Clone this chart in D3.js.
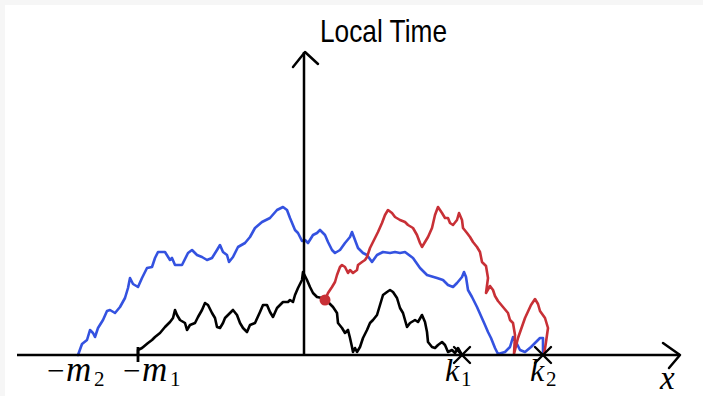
<!DOCTYPE html>
<html>
<head>
<meta charset="utf-8">
<script src="https://cdn.jsdelivr.net/npm/d3@7/dist/d3.min.js"></script>
<style>
  body { margin: 0; background: #fff; }
</style>
</head>
<body>
<div class="local-time"></div>
<script>
// local time profiles as [position x, local time]
const blackPath = [
  [-16.6, 0], [-16.6, 0.5], [-16.2, 0.7], [-15.6, 1.2], [-15.2, 1.5], [-14.9, 1.8],
  [-14.4, 2.2], [-13.9, 2.8], [-13.4, 3.3], [-13.1, 3.7], [-12.9, 4.5], [-12.7, 4.0],
  [-12.4, 3.5], [-11.9, 3.2], [-11.7, 2.5], [-11.4, 3.0], [-10.9, 3.2], [-10.6, 3.8],
  [-10.2, 4.5], [-9.9, 5.2], [-9.6, 5.0], [-9.2, 4.2], [-8.9, 3.7], [-8.7, 2.8],
  [-8.4, 2.7], [-8.1, 3.2], [-7.9, 3.7], [-7.4, 4.2], [-7.1, 4.5], [-6.7, 4.0],
  [-6.4, 3.2], [-6.1, 2.7], [-5.7, 2.3], [-5.4, 3.0], [-4.9, 3.2], [-4.4, 4.3],
  [-4.1, 5.0], [-3.7, 5.0], [-3.4, 4.3], [-3.1, 3.8], [-2.7, 4.7], [-2.4, 5.0],
  [-2.1, 5.3], [-1.6, 5.3], [-1.4, 5.5], [-1.1, 5.3], [-0.9, 6.0], [-0.6, 6.7],
  [-0.2, 7.5], [-0.1, 8.3], [0.3, 7.5], [0.6, 6.8], [0.9, 6.2], [1.3, 5.8],
  [1.8, 5.7], [2.4, 5.3], [2.9, 4.8], [3.3, 4.2], [3.4, 3.2], [3.8, 2.7],
  [4.1, 2.2], [4.4, 2.5], [4.6, 1.7], [4.8, 0.8], [4.9, 0.3], [5.1, 0.7],
  [5.3, 0.3], [5.6, 0.8], [5.9, 1.7], [6.3, 2.5], [6.6, 3.2], [6.9, 3.5],
  [7.3, 4.0], [7.6, 5.0], [7.9, 6.0], [8.3, 6.3], [8.6, 6.5], [8.9, 6.3],
  [9.3, 5.7], [9.6, 4.7], [9.9, 4.2], [10.3, 2.8], [10.6, 3.2], [11.1, 3.5],
  [11.4, 3.3], [11.8, 4.0], [12.1, 3.3], [12.3, 2.3], [12.4, 1.3], [12.8, 0.8],
  [13.1, 0.7], [13.4, 1.0], [13.8, 1.3], [14.1, 1.0], [14.4, 0.3], [14.8, 0.5],
  [15.1, 0.2], [15.4, 0.7], [15.8, 0]
];

const bluePath = [
  [-22.6, 0], [-22.2, 1.1], [-21.7, 1.5], [-21.4, 2.5], [-21.1, 2.2], [-20.9, 1.8],
  [-20.6, 2.7], [-20.1, 3.5], [-19.7, 4.4], [-19.4, 4.5], [-18.9, 4.2], [-18.4, 4.8],
  [-17.9, 5.7], [-17.6, 6.7], [-17.4, 7.7], [-17.1, 7.1], [-16.6, 6.8], [-16.2, 7.7],
  [-15.7, 8.7], [-15.2, 8.8], [-14.9, 9.7], [-14.6, 10.3], [-13.9, 10.3], [-13.4, 9.5],
  [-13.2, 9.7], [-12.9, 9.0], [-12.2, 9.0], [-11.6, 10.2], [-11.2, 10.5], [-10.7, 10.0],
  [-10.2, 9.8], [-9.7, 9.5], [-9.2, 9.7], [-8.7, 10.5], [-8.4, 11.0], [-8.1, 10.3],
  [-7.7, 10.0], [-7.5, 9.3], [-7.1, 9.8], [-6.6, 10.8], [-5.9, 11.2], [-5.4, 11.8],
  [-4.9, 12.7], [-4.2, 13.3], [-3.4, 13.7], [-2.7, 14.5], [-2.1, 14.8], [-1.7, 14.5],
  [-1.4, 13.7], [-0.9, 12.5], [-0.6, 12.2], [-0.2, 11.4], [0.1, 11.5], [0.4, 11.2],
  [0.9, 12.0], [1.3, 12.2], [1.6, 12.5], [2.1, 12.0], [2.4, 11.3], [2.8, 10.5],
  [3.1, 10.2], [3.6, 10.5], [4.1, 11.2], [4.6, 11.8], [4.8, 12.3], [5.1, 11.5],
  [5.4, 10.7], [5.9, 10.2], [6.3, 10.0], [6.8, 9.3], [7.3, 10.0], [7.9, 10.3],
  [8.6, 10.2], [9.1, 10.3], [9.6, 10.2], [10.1, 10.3], [10.9, 9.7], [11.6, 8.7],
  [12.3, 8.0], [13.3, 7.7], [13.9, 7.5], [14.4, 7.0], [14.9, 6.8], [15.3, 7.2],
  [15.8, 7.8], [16.0, 8.3], [16.2, 7.8], [16.4, 6.5], [16.8, 5.8], [17.3, 4.8],
  [17.7, 3.9], [18.1, 3.0], [18.4, 2.3], [18.7, 1.7], [19.1, 0.7], [19.4, 0.1],
  [20.1, 0.3], [20.6, 0.8], [20.9, 1.8], [21.2, 1.3], [21.6, 0.5], [22.1, 0.3],
  [22.7, 0.8], [23.6, 1.7], [23.9, 1.7], [23.9, 0]
];

const redPath = [
  [2.1, 5.5], [2.4, 6.2], [2.8, 6.8], [3.1, 7.3], [3.3, 8.0], [3.6, 8.8],
  [3.8, 9.0], [4.1, 8.8], [4.4, 8.2], [4.6, 8.5], [4.9, 8.2], [5.3, 8.5],
  [5.4, 9.0], [5.8, 9.3], [6.1, 9.5], [6.3, 9.8], [6.6, 10.7], [7.1, 11.7],
  [7.4, 12.3], [7.8, 13.2], [8.1, 14.0], [8.4, 14.5], [8.8, 14.2], [9.1, 13.8],
  [9.6, 13.5], [10.1, 13.3], [10.4, 13.0], [10.9, 12.7], [11.3, 12.0], [11.6, 11.2],
  [11.8, 10.8], [12.1, 11.3], [12.4, 11.8], [12.8, 12.7], [13.1, 14.0], [13.4, 14.8],
  [13.8, 14.2], [14.1, 13.7], [14.4, 13.7], [14.6, 13.2], [14.9, 13.0], [15.3, 13.5],
  [15.5, 14.2], [15.8, 13.5], [15.9, 12.7], [16.3, 12.2], [16.6, 11.8], [16.9, 11.3],
  [17.3, 10.8], [17.6, 10.3], [17.8, 9.3], [18.0, 9.1], [18.2, 8.9], [18.4, 7.7],
  [18.2, 6.2], [18.6, 6.9], [18.9, 6.5], [19.1, 5.9], [19.4, 5.4], [19.9, 4.8],
  [20.4, 4.2], [20.6, 3.5], [20.9, 3.2], [21.1, 2.0], [21.0, 0.1], [21.4, 1.7],
  [22.1, 3.7], [22.7, 5.0], [23.1, 5.6], [23.4, 5.1], [23.6, 4.4], [24.1, 3.7],
  [24.4, 2.7], [24.2, 1.3], [24.0, 0]
];

const redStart = [2.1, 5.5];

// points marked on the x axis
const markerNames = ["m", "m", "k", "k"];
const markerSubs = ["2", "1", "1", "2"];
const markerValues = [-22.6, -16.6, 15.8, 23.9];
const markerKinds = ["none", "tick", "cross", "cross"];

const width = 703;
const height = 396;

const x = d3.scaleLinear().domain([-28.7, 37.6]).range([17, 680]);
const y = d3.scaleLinear().domain([0, 30.3]).range([355, 52]);

const svg = d3
  .select(".local-time")
  .append("svg")
  .attr("width", width)
  .attr("height", height);

// faint grey edge of the original screenshot
svg.append("rect").attr("width", width).attr("height", height).attr("fill", "#f6f6f6");
svg.append("rect").attr("x", 5).attr("y", 5).attr("width", width - 5).attr("height", height - 5).attr("fill", "#fff");

const line = d3.line().x((d) => x(d[0])).y((d) => y(d[1]));

// curves
const curves = [
  { data: bluePath, color: "#3452e0" },
  { data: blackPath, color: "#000" },
  { data: redPath, color: "#c83036" }
];

svg
  .selectAll("path.curve")
  .data(curves)
  .enter()
  .append("path")
  .attr("class", "curve")
  .attr("d", (d) => line(d.data))
  .attr("fill", "none")
  .attr("stroke", (d) => d.color)
  .attr("stroke-width", 2.6)
  .attr("stroke-linejoin", "round")
  .attr("stroke-linecap", "round");

// axes
const [x0, x1] = x.range();
const [yBase, yTop] = y.range();

svg
  .append("line")
  .attr("x1", x0)
  .attr("x2", x1)
  .attr("y1", yBase)
  .attr("y2", yBase)
  .attr("stroke", "#000")
  .attr("stroke-width", 2.5);

svg
  .append("line")
  .attr("x1", x(0))
  .attr("x2", x(0))
  .attr("y1", yBase)
  .attr("y2", yTop)
  .attr("stroke", "#000")
  .attr("stroke-width", 2.5);

// arrow heads
svg
  .append("path")
  .attr("d", `M${x1 - 17},${yBase - 12} L${x1},${yBase} L${x1 - 11},${yBase + 13}`)
  .attr("fill", "none")
  .attr("stroke", "#000")
  .attr("stroke-width", 2.5)
  .attr("stroke-linecap", "round")
  .attr("stroke-linejoin", "round");

svg
  .append("path")
  .attr("d", `M${x(0) - 11},${yTop + 15} L${x(0) + 1},${yTop} L${x(0) + 14},${yTop + 12}`)
  .attr("fill", "none")
  .attr("stroke", "#000")
  .attr("stroke-width", 2.5)
  .attr("stroke-linecap", "round")
  .attr("stroke-linejoin", "round");

// tick and crosses on the axis
markerValues.forEach((v, i) => {
  const px = x(v);
  if (markerKinds[i] === "tick") {
    svg.append("line")
      .attr("x1", px).attr("x2", px)
      .attr("y1", yBase - 8).attr("y2", yBase + 7)
      .attr("stroke", "#000").attr("stroke-width", 2.8);
  }
  if (markerKinds[i] === "cross") {
    svg.append("path")
      .attr("d", `M${px - 8},${yBase - 8} L${px + 8},${yBase + 8} M${px - 8},${yBase + 8} L${px + 8},${yBase - 8}`)
      .attr("stroke", "#000")
      .attr("stroke-width", 2.4)
      .attr("stroke-linecap", "round");
  }
});

// start of the red profile
svg
  .append("circle")
  .attr("cx", x(redStart[0]))
  .attr("cy", y(redStart[1]))
  .attr("r", 5.5)
  .attr("fill", "#c83036");

// marker labels
const labelShift = [-1, 15, -4, 0];
markerValues.forEach((v, i) => {
  const cx = x(v) + labelShift[i];
  const t = svg.append("text")
    .attr("y", 381)
    .attr("font-family", "'Liberation Serif', 'DejaVu Serif', serif")
    .attr("font-size", 31);
  if (v < 0) {
    const start = cx - 30;
    t.append("tspan").attr("x", start).text("\u2212");
    t.append("tspan").attr("x", start + 19).attr("font-style", "italic").attr("font-size", 35).text(markerNames[i]);
    t.append("tspan").attr("x", start + 47).attr("dy", 5).attr("font-size", 21).text(markerSubs[i]);
  } else {
    const start = cx - 13;
    t.append("tspan").attr("x", start).attr("font-style", "italic").attr("font-size", 32).text(markerNames[i]);
    t.append("tspan").attr("x", start + 16).attr("dy", 5).attr("font-size", 21).text(markerSubs[i]);
  }
});

// axis titles
svg
  .append("text")
  .attr("x", x1 - 20)
  .attr("y", 389)
  .attr("font-family", "'Liberation Serif', 'DejaVu Serif', serif")
  .attr("font-style", "italic")
  .attr("font-size", 33)
  .text("x");

svg
  .append("text")
  .attr("x", 320)
  .attr("y", 42)
  .attr("font-family", "'Liberation Sans', sans-serif")
  .attr("font-size", 32)
  .attr("textLength", 127)
  .attr("lengthAdjust", "spacingAndGlyphs")
  .text("Local Time");
</script>
</body>
</html>
